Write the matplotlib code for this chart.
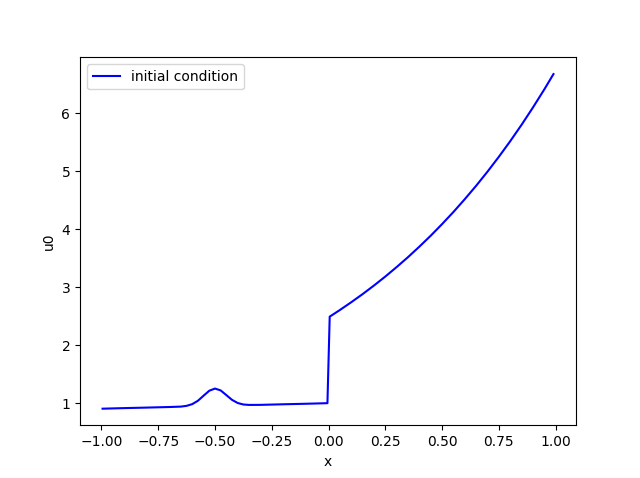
import matplotlib
matplotlib.use("Agg")
import matplotlib.pyplot as plt

# initial condition: smooth base with a bump at -0.5,
# then a jump at x = 0 into an exponential-looking rise
x_left = [-0.995, -0.9, -0.8, -0.7, -0.65, -0.625, -0.6, -0.575, -0.55, -0.525,
          -0.5, -0.475, -0.45, -0.425, -0.4, -0.375, -0.35, -0.3, -0.2, -0.1, -0.005]
u_left = [0.905, 0.915, 0.924, 0.934, 0.941, 0.954, 0.984, 1.042, 1.130, 1.215,
          1.252, 1.220, 1.139, 1.057, 1.003, 0.977, 0.970, 0.971, 0.981, 0.990, 1.000]

x_right = [0.005, 0.05, 0.1, 0.15, 0.2, 0.25, 0.3, 0.35, 0.4, 0.45, 0.5,
           0.55, 0.6, 0.65, 0.7, 0.75, 0.8, 0.85, 0.9, 0.95, 0.99]
u_right = [2.492, 2.607, 2.741, 2.881, 3.029, 3.184, 3.348, 3.519, 3.700, 3.889, 4.089,
           4.298, 4.519, 4.750, 4.994, 5.250, 5.519, 5.802, 6.100, 6.412, 6.674]

x = x_left + x_right
u0 = u_left + u_right

fig, ax = plt.subplots(figsize=(6.4, 4.78), dpi=100)
ax.plot(x, u0, 'b', label='initial condition')
ax.set_xlabel('x')
ax.set_ylabel('u0')
ax.legend(loc='upper left')
fig.savefig('out.png')
